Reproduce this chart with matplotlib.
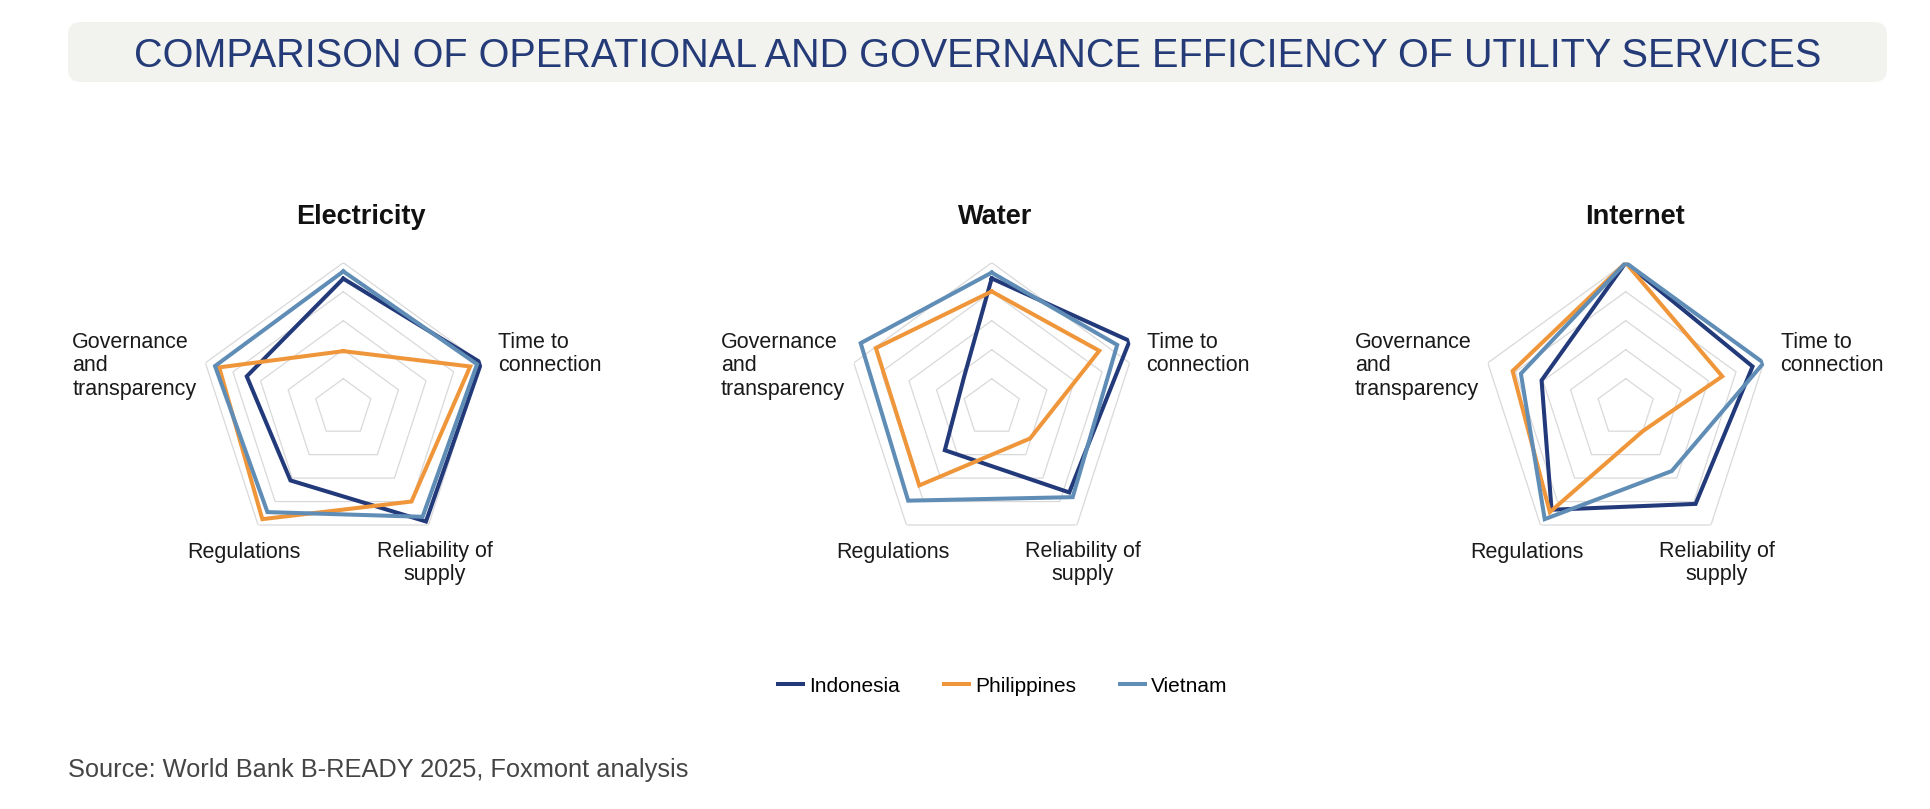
import numpy as np
import matplotlib.pyplot as plt
import matplotlib as mpl
from matplotlib.patches import FancyBboxPatch

mpl.rcParams["font.family"] = ["Liberation Sans", "DejaVu Sans"]

# values, outer ring = 1.0
categories = ["", "Time to\nconnection", "Reliability of\nsupply", "Regulations",
              "Governance\nand\ntransparency"]
services = ["Electricity", "Water", "Internet"]
countries = ["Indonesia", "Philippines", "Vietnam"]

electricity_indonesia = [0.89, 1.00, 0.97, 0.62, 0.70]
electricity_philippines = [0.39, 0.92, 0.80, 0.95, 0.90]
electricity_vietnam = [0.94, 0.97, 0.93, 0.89, 0.93]

water_indonesia = [0.74, 1.00, 0.91, 0.55, 0.20]
water_philippines = [0.65, 0.78, 0.45, 0.85, 0.84]
water_vietnam = [0.78, 0.91, 0.95, 0.98, 0.95]

internet_indonesia = [1.00, 0.92, 0.82, 0.87, 0.61]
internet_philippines = [1.00, 0.70, 0.20, 0.89, 0.82]
internet_vietnam = [1.00, 1.00, 0.54, 0.95, 0.76]

ring_levels = [0.2, 0.4, 0.6, 0.8, 1.0]

series = {
    "Electricity": [electricity_indonesia, electricity_philippines, electricity_vietnam],
    "Water": [water_indonesia, water_philippines, water_vietnam],
    "Internet": [internet_indonesia, internet_philippines, internet_vietnam],
}

colors = ["#22397a", "#f0963a", "#5f8db6"]
NAVY = "#243b78"

W, H = 1930, 809
fig = plt.figure(figsize=(W / 100, H / 100), dpi=100)

# background axes in pixel units (y from top)
bg = fig.add_axes([0, 0, 1, 1], zorder=0)
bg.set_xlim(0, W); bg.set_ylim(H, 0); bg.axis("off")

bg.add_patch(FancyBboxPatch((68, 22), 1819, 60, boxstyle="round,pad=0,rounding_size=13",
                            facecolor="#f2f2ef", edgecolor="none"))
bg.text(978, 56, "COMPARISON OF OPERATIONAL AND GOVERNANCE EFFICIENCY OF UTILITY SERVICES",
        ha="center", va="center", fontsize=28.5, color=NAVY)
bg.text(68, 770, "Source: World Bank B-READY 2025, Foxmont analysis",
        ha="left", va="center", fontsize=18.3, color="#454545")

centers_x = [343.3, 991.7, 1625.7]
center_y = 407.7
radius = 145
data_shift = [0, 22, 0]       # water polygon sits a bit higher than its grid
title_dx = [18, 3, 9]

angles = np.linspace(0, 2 * np.pi, len(categories), endpoint=False)
closed = np.append(angles, angles[0])

# label placement relative to each spoke tip (pixels)
label_style = [
    None,
    dict(xytext=(17, 9), ha="left", va="center", ma="left"),
    dict(xytext=(6, -38), ha="center", va="center", ma="center"),
    dict(xytext=(-14, -27), ha="center", va="center", ma="center"),
    dict(xytext=(-9, -3), ha="right", va="center", ma="left"),
]

lines = []
for i, name in enumerate(services):
    cx = centers_x[i]
    rect = [(cx - radius) / W, (H - center_y - radius) / H, 2 * radius / W, 2 * radius / H]
    ax = fig.add_axes(rect, projection="polar", zorder=1)
    ax.set_theta_zero_location("N"); ax.set_theta_direction(-1)
    ax.set_ylim(0, 1); ax.axis("off")
    for r in ring_levels:
        ax.plot(closed, [r] * len(closed), color="#d9d9d9", lw=0.9, zorder=1)

    for k, lab in enumerate(categories):
        if label_style[k] is None:
            continue
        st = label_style[k]
        ax.annotate(lab, xy=(angles[k], 1.0), xycoords="data", xytext=st["xytext"],
                    textcoords="offset pixels", ha=st["ha"], va=st["va"], ma=st["ma"],
                    fontsize=15.5, color="#1a1a1a", linespacing=1.15, annotation_clip=False)

    rect2 = [(cx - radius) / W, (H - center_y + data_shift[i] - radius) / H,
             2 * radius / W, 2 * radius / H]
    axd = fig.add_axes(rect2, projection="polar", zorder=2)
    axd.set_theta_zero_location("N"); axd.set_theta_direction(-1)
    axd.set_ylim(0, 1); axd.axis("off")
    axd.patch.set_alpha(0)
    for j, vals in enumerate(series[name]):
        v = np.append(vals, vals[0])
        ln, = axd.plot(closed, v, color=colors[j], lw=2.9, solid_joinstyle="miter", zorder=3)
        if i == 0:
            lines.append(ln)

    bg.text(cx + title_dx[i], 217, name, ha="center", va="center", fontsize=19.5,
            fontweight="bold", color="#111111")

fig.legend(lines, countries, loc="center", bbox_to_anchor=(1003 / W, 1 - 686 / H), ncol=3,
           frameon=False, fontsize=15, handlelength=1.2, handletextpad=0.3, columnspacing=2.1)

fig.savefig("out.png", dpi=100)
